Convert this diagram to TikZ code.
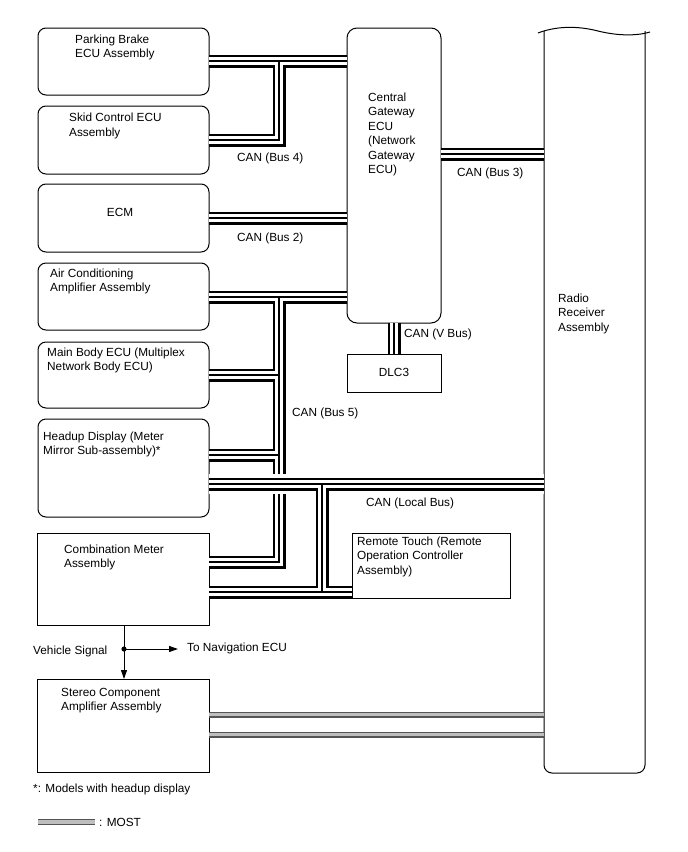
\documentclass[tikz,border=0pt]{standalone}
\usepackage{fontspec}
\setmainfont{Liberation Sans}
\usetikzlibrary{arrows.meta}
\definecolor{mostdark}{RGB}{85,85,85}
\definecolor{mostlight}{RGB}{190,190,190}
\begin{document}
\begin{tikzpicture}[x=1pt,y=-1pt,
  box/.style={draw, line width=1pt, anchor=north west, inner sep=0pt, outer sep=0pt},
  rbox/.style={box, rounded corners=8pt},
  txt/.style={anchor=base west, inner sep=0pt, font=\fontsize{11.8}{14.5}\selectfont, align=left},
  ctxt/.style={anchor=base, inner sep=0pt, font=\fontsize{11.8}{14.5}\selectfont},
  pipeA/.style={line width=13pt, black},
  pipeB/.style={line width=7.6pt, white},
  pipeC/.style={line width=1.2pt, black},
  halo/.style={line width=20pt, white},
  mostA/.style={line width=6pt, mostdark},
  mostB/.style={line width=3.6pt, mostlight},
  sig/.style={line width=1pt, -{Triangle[length=9pt,width=6pt]}}
]
\useasboundingbox (0,0) rectangle (688,852);

% boxes
\node[rbox, minimum width=171pt, minimum height=67pt] (pb) at (38,28) {};
\node[rbox, minimum width=171pt, minimum height=68pt] (skid) at (38,106) {};
\node[rbox, minimum width=171pt, minimum height=68pt] (ecm) at (38,184) {};
\node[rbox, minimum width=171pt, minimum height=67pt] (ac) at (38,263) {};
\node[rbox, minimum width=171pt, minimum height=66pt] (mb) at (38,342) {};
\node[rbox, minimum width=171pt, minimum height=98pt] (hud) at (38,419) {};
\node[box, minimum width=172pt, minimum height=92pt] (cm) at (37,533) {};
\node[box, minimum width=172pt, minimum height=93pt] (sca) at (37,679) {};
\node[box, rounded corners=10pt, minimum width=94pt, minimum height=295pt] (cgw) at (347,28) {};
\node[box, minimum width=94pt, minimum height=38pt] (dlc) at (347,354) {};
\node[box, minimum width=158pt, minimum height=65pt] (rt) at (352,533) {};
\node[anchor=north west, inner sep=0pt, outer sep=0pt, minimum width=101pt, minimum height=742pt] (radio) at (544,31) {};
\draw[line width=1pt, rounded corners=8pt] (radio.north west) -- (radio.south west) -- (radio.south east) -- (radio.north east);
\draw[line width=1pt] (538,33) .. controls (555,26.5) and (575,25.5) .. (596,30.5) .. controls (615,35.5) and (635,36.5) .. (650,32);

% junction coordinates
\coordinate (j4a) at (279,61);
\coordinate (j4b) at (279,140);
\coordinate (j5a) at (279,297);
\coordinate (j5b) at (279,375);
\coordinate (j5c) at (279,455);
\coordinate (j5d) at (279,562);
\coordinate (jla) at (322,484);
\coordinate (jlb) at (322,592);

\newcommand\CanNet[1]{%
  \draw[#1] (pb.east |- j4a) -- (cgw.west |- j4a);
  \draw[#1] (skid.east |- j4b) -- (j4b) -- (j4a);
  \draw[#1] (ecm.east |- 0,218) -- (cgw.west |- 0,218);
  \draw[#1] (cgw.east |- 0,154) -- (radio.west |- 0,154);
  \draw[#1] (cgw.south) -- (dlc.north);
  \draw[#1] (ac.east |- j5a) -- (cgw.west |- j5a);
  \draw[#1] (j5a) -- (j5d) -- (cm.east |- j5d);
  \draw[#1] (j5b) -- (mb.east |- j5b);
  \draw[#1] (j5c) -- (hud.east |- j5c);
}
\newcommand\LocalNet[1]{%
  \draw[#1] (hud.east |- jla) -- (radio.west |- jla);
  \draw[#1] (jla) -- (jlb);
  \draw[#1] (cm.east |- jlb) -- (rt.west |- jlb);
}
\CanNet{pipeA}\CanNet{pipeB}\CanNet{pipeC}
\draw[halo] (hud.east |- jla) -- (radio.west |- jla);
\LocalNet{pipeA}\LocalNet{pipeB}\LocalNet{pipeC}

% MOST
\newcommand\MostNet[1]{%
  \draw[#1] (sca.east |- 0,714.5) -- (radio.west |- 0,714.5);
  \draw[#1] (sca.east |- 0,734.5) -- (radio.west |- 0,734.5);
}
\MostNet{mostA}\MostNet{mostB}
\coordinate (legA) at (38,822);
\coordinate (legB) at (95,822);
\draw[mostA] (legA) -- (legB);
\draw[mostB] (legA) -- (legB);

% vehicle signal
\coordinate (dot) at (124,649);
\coordinate (nav) at (178,649);
\draw[sig] (cm.south -| dot) -- (sca.north -| dot);
\draw[sig] (dot) -- (nav);
\fill (dot) circle (2.6pt);

% texts (base = baseline of last line)
\node[txt] (pbt) at (75,57.5) {Parking Brake\\ECU Assembly};
\node[txt] (skt) at (69,136.2) {Skid Control ECU\\Assembly};
\node[ctxt] (ecmt) at (120,216) {ECM};
\node[txt] (act) at (50,291.5) {Air Conditioning\\Amplifier Assembly};
\node[txt] (mbt) at (47,370.5) {Main Body ECU (Multiplex\\Network Body ECU)};
\node[txt] (hudt) at (43,454.5) {Headup Display (Meter\\Mirror Sub-assembly)*};
\node[txt] (cmt) at (64,567.5) {Combination Meter\\Assembly};
\node[txt] (rtt) at (357,574) {Remote Touch (Remote\\Operation Controller\\Assembly)};
\node[txt] (cgwt) at (368,173.5) {Central\\Gateway\\ECU\\(Network\\Gateway\\ECU)};
\node[txt] (radt) at (558,331) {Radio\\Receiver\\Assembly};
\node[ctxt] (dlct) at (394,376) {DLC3};
\node[txt] (scat) at (61,710.5) {Stereo Component\\Amplifier Assembly};

\node[txt] (l4) at (237,161) {CAN (Bus 4)};
\node[txt] (l2) at (237,241) {CAN (Bus 2)};
\node[txt] (l3) at (457,176) {CAN (Bus 3)};
\node[txt] (lv) at (404,337) {CAN (V Bus)};
\node[txt] (l5) at (292,416) {CAN (Bus 5)};
\node[txt] (ll) at (366,506) {CAN (Local Bus)};
\node[txt] (vs) at (33,654) {Vehicle Signal};
\node[txt] (navt) at (187,651) {To Navigation ECU};
\node[txt] (note) at (33,792) {*: Models with headup display};
\node[txt] (most) at (99,826) {: MOST};
\end{tikzpicture}
\end{document}
